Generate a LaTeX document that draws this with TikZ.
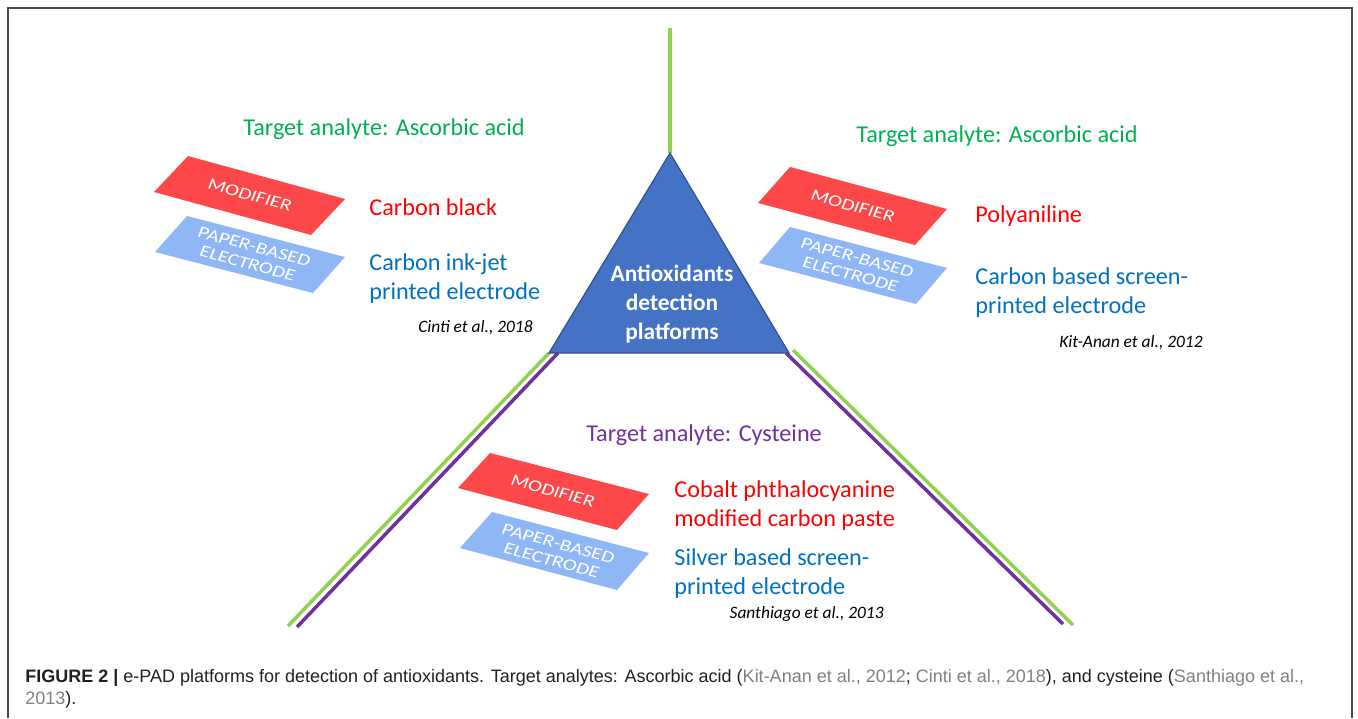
\documentclass[tikz,border=0pt]{standalone}
\usepackage{fontspec}
\setmainfont{Carlito}
\newfontfamily\capfont{Liberation Sans}
\usepackage{tikz}
\usetikzlibrary{positioning}

\definecolor{armgreen}{RGB}{146,208,80}
\definecolor{armpurple}{RGB}{112,48,160}
\definecolor{tribl}{RGB}{68,114,196}
\definecolor{tribd}{RGB}{47,82,143}
\definecolor{ttlgreen}{RGB}{0,176,80}
\definecolor{txtred}{RGB}{255,0,0}
\definecolor{txtblue}{RGB}{0,112,192}
\definecolor{modred}{RGB}{252,72,72}
\definecolor{padblue}{RGB}{143,182,245}
\definecolor{capgray}{RGB}{128,128,128}
\definecolor{capdark}{RGB}{35,31,32}

\begin{document}
\begin{tikzpicture}[
            x=0.5pt, y=-0.5pt,
            lbl/.style={
                font=\fontsize{12.1}{14.5}\selectfont, anchor=west, align=left, inner sep=0pt
            },
            ttl/.style={
                font=\fontsize{12.1}{14.5}\selectfont, anchor=center, inner sep=0pt
            },
            cite/.style={
                font=\fontsize{8.7}{10}\selectfont\itshape, text=black, anchor=east, inner sep=0pt
            },
            boxtext/.style={
                text=white, font=\fontsize{10.4}{11.2}\selectfont, rotate=-15, xslant=0.12, yscale=0.8, align=center, inner sep=0pt
            },
            modbox/.style={fill=modred, draw=none},
            padbox/.style={fill=padblue, draw=none},
            arm/.style={line width=1.75pt}
        ]
            \useasboundingbox (0,0) rectangle (1358,718);

            % KHUNG
            \draw[gray!60!black, line width=0.8pt] (8,718) -- (8,8) -- (1352,8) -- (1352,718);

            % --- TAM GIAC ---
            \coordinate (apex) at (670,153);
            \coordinate (baseL) at (549,353);
            \coordinate (baseR) at (789,353);
            \coordinate (baseLp) at (558,353);
            \coordinate (baseRg) at (793,350);
            \coordinate (top) at (670,28);
            \coordinate (endLg) at (288,626);
            \coordinate (endLp) at (297,627);
            \coordinate (endRp) at (1063,624);
            \coordinate (endRg) at (1073,625);

            % cac nhanh xanh / tim
            \draw[arm, armgreen] (top) -- (apex);
            \draw[arm, armgreen] (baseL) -- (endLg);
            \draw[arm, armpurple] (baseLp) -- (endLp);
            \draw[arm, armpurple] (baseR) ++(-3,0) -- (endRp);
            \draw[arm, armgreen] (baseRg) -- (endRg);

            \draw[fill=tribl, draw=tribd, line width=0.6pt] (apex) -- (baseR) -- (baseL) -- cycle;
            \node[ttl, text=white, align=center, font=\fontsize{11.7}{14.6}\selectfont\bfseries] (core) at (672,304) {Antioxidants\\detection\\platforms};

            % --- NHOM TRAI ---
            \node[ttl, text=ttlgreen] (tgtL) at (384,129) {Target analyte: Ascorbic acid};
            \draw[modbox] (154,192) -- ++(34,-36) -- ++(157,43) -- ++(-34,36) -- cycle;
            \node[boxtext] (modL) at (250,195) {MODIFIER};
            \draw[padbox] (155,252) -- ++(32,-36) -- ++(158,41) -- ++(-32,36) -- cycle;
            \node[boxtext] (padL) at (251,255) {PAPER-BASED\\ELECTRODE};
            \node[lbl, text=txtred] (modtxtL) at (369,207) {Carbon black};
            \node[lbl, text=txtblue] (padtxtL) at (369,279) {Carbon ink-jet\\printed electrode};
            \node[cite] (citeL) at (533,328) {Cinti et al., 2018};

            % --- NHOM PHAI ---
            \node[ttl, text=ttlgreen] (tgtR) at (997,136) {Target analyte: Ascorbic acid};
            \draw[modbox] (758,203) -- ++(32,-36) -- ++(157,42) -- ++(-32,36) -- cycle;
            \node[boxtext] (modR) at (853,206) {MODIFIER};
            \draw[padbox] (759,263) -- ++(31,-36) -- ++(157,41) -- ++(-31,36) -- cycle;
            \node[boxtext] (padR) at (854,266) {PAPER-BASED\\ELECTRODE};
            \node[lbl, text=txtred] (modtxtR) at (975,216) {Polyaniline};
            \node[lbl, text=txtblue] (padtxtR) at (975,293) {Carbon based screen-\\printed electrode};
            \node[cite] (citeR) at (1203,343) {Kit-Anan et al., 2012};

            % --- NHOM DUOI ---
            \node[ttl, text=armpurple] (tgtB) at (704,435) {Target analyte: Cysteine};
            \draw[modbox] (458,488) -- ++(32,-35) -- ++(159,41) -- ++(-32,36) -- cycle;
            \node[boxtext] (modB) at (553,491) {MODIFIER};
            \draw[padbox] (460,548) -- ++(32,-36) -- ++(157,41) -- ++(-32,37) -- cycle;
            \node[boxtext] (padB) at (555,552) {PAPER-BASED\\ELECTRODE};
            \node[lbl, text=txtred] (modtxtB) at (674,506) {Cobalt phthalocyanine\\modified carbon paste};
            \node[lbl, text=txtblue] (padtxtB) at (674,574) {Silver based screen-\\printed electrode};
            \node[cite] (citeB) at (884,614) {Santhiago et al., 2013};

            % --- CHU THICH ---
            \node[anchor=base west, inner sep=0pt, text=capdark, font=\capfont\fontsize{9}{11}\selectfont] (cap1) at (25,682)
                {\textbf{FIGURE 2 |} e-PAD platforms for detection of antioxidants. Target analytes: Ascorbic acid (\textcolor{capgray}{Kit-Anan et al., 2012}; \textcolor{capgray}{Cinti et al., 2018}), and cysteine (\textcolor{capgray}{Santhiago et al.,}};
            \node[anchor=base west, inner sep=0pt, text=capdark, font=\capfont\fontsize{9}{11}\selectfont] (cap2) at (25,704)
                {\textcolor{capgray}{2013}).};

        \end{tikzpicture}
\end{document}
